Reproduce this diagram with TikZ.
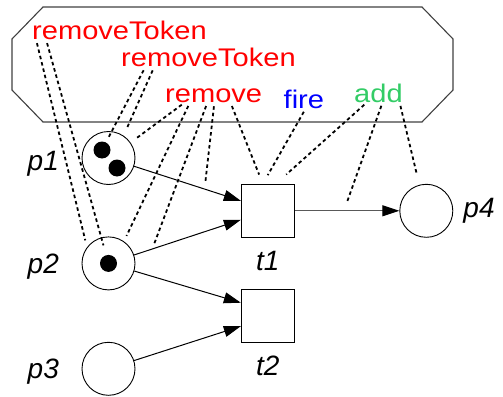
\documentclass[tikz,border=0pt]{standalone}
\usepackage{fontspec}
\newfontfamily\opfont[FakeStretch=1.14]{Liberation Sans}
\newfontfamily\lblfont{Liberation Sans}
\usepackage{xcolor}
\usetikzlibrary{arrows.meta, positioning}
\definecolor{opred}{RGB}{255,0,0}
\definecolor{opblue}{RGB}{0,0,255}
\definecolor{opgreen}{RGB}{51,204,102}

\begin{document}
\begin{tikzpicture}[
    x=1pt, y=-1pt,
    node distance=51.5pt and 104.6pt,
    place/.style={draw, circle, minimum size=53pt, inner sep=0pt, line width=0.9pt},
    trans/.style={draw, rectangle, minimum size=53pt, inner sep=0pt, line width=0.9pt},
    token/.style={circle, fill=black, minimum size=17pt, inner sep=0pt},
    op/.style={font=\opfont\fontsize{25.5}{29}\selectfont, inner sep=0pt, anchor=base west},
    lbl/.style={font=\lblfont\itshape\fontsize{28}{32}\selectfont, inner sep=0pt},
    arc/.style={-{Triangle[length=17pt, width=11pt]}, line width=1pt},
    arcg/.style={arc, draw=black!65, -{Triangle[length=17pt, width=11pt, color=black]}},
    link/.style={dash pattern=on 3.5pt off 3pt, line width=1.8pt, shorten <=4pt, shorten >=7pt},
]
\useasboundingbox (0,0) rectangle (503,396);

% === OPERATIONS BOX ===
\draw[line width=1.1pt, black!75] (43,7) -- (422,7) -- (453,39) -- (453,90) -- (422,122)
    -- (43,122) -- (12,90) -- (12,39) -- cycle;

\node[op, text=opred] (rmtok1) at (32,39.3) {removeToken};
\node[op, text=opred] (rmtok2) at (121,66.7) {removeToken};
\node[op, text=opred] (rem) at (165,102.3) {remove};
\node[op, text=opblue] (fire) at (283.5,108.3) {fire};
\node[op, text=opgreen] (add) at (354,102) {add};

% === NET ===
\node[place] (p1) at (108.5,158) {};
\node[place, below=of p1] (p2) {};
\node[place, below=of p2] (p3) {};
\node[trans] (t1) at (267.8,210.8) {};
\node[trans, below=of t1] (t2) {};
\node[place, right=of t1] (p4) {};

\node[token] (k1) at ([shift={(-6.5,-8)}]p1.center) {};
\node[token] (k2) at ([shift={(8.5,10)}]p1.center) {};
\node[token] (k3) at (p2) {};

\node[lbl, left=22.5pt of p1, anchor=base east, yshift=-12pt] (p1l) {p1};
\node[lbl, left=22.5pt of p2, anchor=base east, yshift=-10pt] (p2l) {p2};
\node[lbl, left=22.5pt of p3, anchor=base east, yshift=-10pt] (p3l) {p3};
\node[lbl, below=32.5pt of t1, anchor=base] (t1l) {t1};
\node[lbl, below=32.5pt of t2, anchor=base] (t2l) {t2};
\node[lbl, right=10pt of p4, anchor=base west, yshift=-7pt] (p4l) {p4};

\draw[arc] (p1) -- coordinate[pos=0.66] (a1) ([yshift=10pt]t1.west);
\draw[arc] (p2) -- coordinate[pos=0.17] (a2) ([yshift=-9pt]t1.west);
\draw[arc] (p2) -- ([yshift=13.5pt]t2.west);
\draw[arc] (p3) -- ([yshift=-10pt]t2.west);
\draw[arcg] (t1) -- coordinate[pos=0.47] (a3) (p4);

% === LINKS ===
\draw[link] ([xshift=4pt]rmtok1.base west) -- (p2.143);
\draw[link, shorten >=10pt] ([xshift=14pt]rmtok1.base west) -- (k3);
\draw[link, shorten >=5pt] ([xshift=24.5pt]rmtok2.base west) -- (k1);
\draw[link] ([xshift=33.3pt]rmtok2.base west) -- (p1.56);
\draw[link, shorten >=8pt] ([xshift=20pt]rem.base west) -- (p1.35);
\draw[link, shorten >=6pt] ([xshift=25pt]rem.base west) -- (p2.55);
\draw[link, shorten >=4.5pt] ([xshift=42.5pt]rem.base west) -- (a2);
\draw[link] ([xshift=49.4pt]rem.base west) -- (a1);
\draw[link, shorten >=10pt] ([xshift=65.4pt]rem.base west) -- ([xshift=-5pt]t1.north);
\draw[link, shorten >=10pt] ([xshift=22.3pt]fire.base west) -- ([xshift=-5pt]t1.north);
\draw[link, shorten >=14pt] ([xshift=13.3pt]add.base west) -- ([xshift=8pt]t1.north);
\draw[link, shorten >=8pt] ([xshift=28.7pt]add.base west) -- (a3);
\draw[link, shorten >=10pt] ([xshift=45.5pt]add.base west) -- (p4.105);

\end{tikzpicture}
\end{document}
